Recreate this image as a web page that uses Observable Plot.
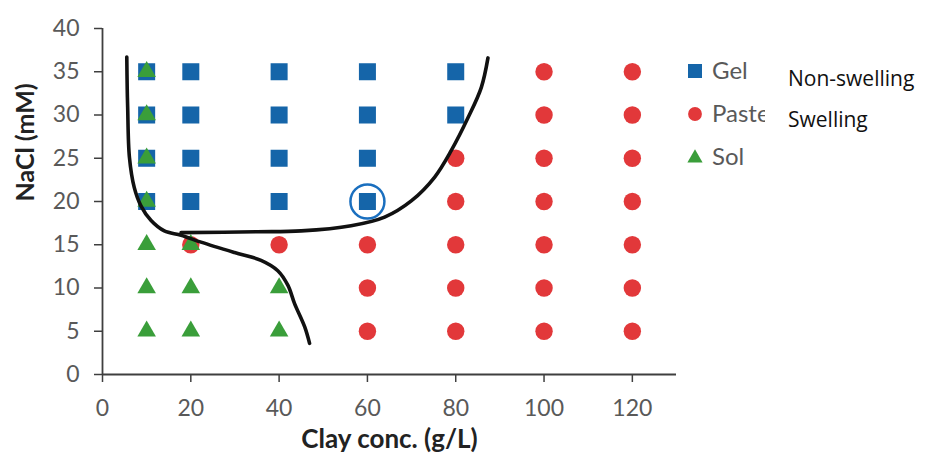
<!DOCTYPE html>
<html>
<head>
<meta charset="utf-8">
<script src="https://cdn.jsdelivr.net/npm/d3@7"></script>
<script src="https://cdn.jsdelivr.net/npm/@observablehq/plot@0.6"></script>
<style>
  html, body { margin: 0; padding: 0; background: #fff; }
  #chart { position: relative; width: 926px; height: 464px; overflow: hidden; }
  #chart svg { display: block; }
  #overlay { position: absolute; left: 0; top: 0; pointer-events: none; }
</style>
</head>
<body>
<div id="chart"></div>
<script>
// Phase diagram: clay concentration (g/L) vs NaCl (mM)
const xTicks = [0, 20, 40, 60, 80, 100, 120];
const yTicks = [0, 5, 10, 15, 20, 25, 30, 35, 40];

// Observed states, as [clay conc., NaCl] pairs
const gel = [
  [10, 20], [10, 25], [10, 30], [10, 35],
  [20, 20], [20, 25], [20, 30], [20, 35],
  [40, 20], [40, 25], [40, 30], [40, 35],
  [60, 20], [60, 25], [60, 30], [60, 35],
  [80, 30], [80, 35]
];
const paste = [
  [20, 15], [40, 15],
  [60, 5], [60, 10], [60, 15],
  [80, 5], [80, 10], [80, 15], [80, 20], [80, 25],
  [100, 5], [100, 10], [100, 15], [100, 20], [100, 25], [100, 30], [100, 35],
  [120, 5], [120, 10], [120, 15], [120, 20], [120, 25], [120, 30], [120, 35]
];
const sol = [
  [10, 5], [10, 10], [10, 15], [10, 20], [10, 25], [10, 30], [10, 35],
  [20, 5], [20, 10], [20, 15],
  [40, 5], [40, 10]
];
const highlighted = [[60, 20]];

// Hand-drawn phase boundaries
const solBoundary = [
  [5.5, 36.7], [5.6, 33], [5.7, 30.9], [6.1, 25.1], [7.2, 21.6], [8.7, 19.5],
  [11, 17.8], [14, 16.6], [17.8, 16.1], [22.3, 15.3], [29.9, 14.1], [35.9, 13.2],
  [39.7, 12.0], [42, 10.3], [43.5, 8.2], [45.8, 5.5], [46.9, 3.6]
];
const gelBoundary = [
  [17.8, 16.4], [35, 16.5], [45, 16.6], [56.3, 17.2], [63.9, 18.2], [70, 20.1],
  [75.2, 22.8], [79, 25.9], [82.8, 29.7], [85.8, 33.2], [87.3, 36.6]
];

const states = ["Gel", "Paste", "Sol"];
const colors = { Gel: "#1565a9", Paste: "#e2383a", Sol: "#3a9e3a" };
const notes = ["Non-swelling", "Swelling"];

const axisColor = "#3f3f3f";
const tickTextColor = "#595959";
const titleColor = "#222";

const plot = Plot.plot({
  width: 926,
  height: 464,
  marginLeft: 102,
  marginRight: 250,
  marginTop: 28,
  marginBottom: 90,
  style: { fontFamily: "Lato, sans-serif", background: "white", overflow: "visible" },
  x: { domain: [0, 130] },
  y: { domain: [0, 40] },
  marks: [
    Plot.axisX({ ticks: xTicks, tickSize: 8, tickPadding: 17, fontSize: 23,
      stroke: axisColor, strokeWidth: 1.5, fill: tickTextColor, label: null }),
    Plot.axisY({ ticks: yTicks, tickSize: 8, tickPadding: 15, fontSize: 23,
      stroke: axisColor, strokeWidth: 1.5, fill: tickTextColor, label: null }),
    Plot.ruleY([0], { stroke: axisColor, strokeWidth: 1.8 }),
    Plot.ruleX([0], { stroke: axisColor, strokeWidth: 1.8 }),
    Plot.dot(gel, { x: d => d[0], y: d => d[1], symbol: "square", r: 9.6, fill: colors.Gel }),
    Plot.dot(paste, { x: d => d[0], y: d => d[1], symbol: "circle", r: 8.7, fill: colors.Paste }),
    Plot.dot(sol, { x: d => d[0], y: d => d[1], symbol: "triangle", r: 6.9, fill: colors.Sol }),
    Plot.line(solBoundary, { x: d => d[0], y: d => d[1], curve: "catmull-rom",
      stroke: "#111", strokeWidth: 3.6 }),
    Plot.line(gelBoundary, { x: d => d[0], y: d => d[1], curve: "catmull-rom",
      stroke: "#111", strokeWidth: 3.6 }),
    Plot.dot(highlighted, { x: d => d[0], y: d => d[1], r: 17, fill: "none",
      stroke: "#1a6fbf", strokeWidth: 2.5 }),
    Plot.text(["NaCl (mM)"], { text: d => d, frameAnchor: "left", dx: -77, rotate: -90,
      fontSize: 25, fontWeight: "bold", fill: titleColor }),
    Plot.text(["Clay conc. (g/L)"], { text: d => d, frameAnchor: "bottom", dy: 73,
      fontSize: 26, fontWeight: "bold", fill: titleColor })
  ]
});

const chart = document.getElementById("chart");
chart.appendChild(plot);

// Legend and annotations drawn on top of the plot
const overlay = d3.select(chart).append("svg")
  .attr("id", "overlay")
  .attr("width", 926)
  .attr("height", 464);

overlay.append("clipPath").attr("id", "legend-clip")
  .append("rect").attr("x", 680).attr("y", 45).attr("width", 85).attr("height", 135);

const legend = overlay.append("g").attr("clip-path", "url(#legend-clip)");
const symbolFor = {
  Gel: d3.symbol(d3.symbolSquare, 196),
  Paste: d3.symbol(d3.symbolCircle, 150),
  Sol: d3.symbol(d3.symbolTriangle, 100)
};
states.forEach((s, i) => {
  const cy = 71 + i * 43;
  legend.append("path")
    .attr("transform", `translate(695,${cy + (s === "Sol" ? 1 : 0)})`)
    .attr("d", symbolFor[s]())
    .attr("fill", colors[s]);
  legend.append("text")
    .attr("x", 712)
    .attr("y", cy)
    .attr("dy", "0.35em")
    .attr("font-family", "Lato, sans-serif")
    .attr("font-size", 24)
    .attr("fill", tickTextColor)
    .text(s);
});

notes.forEach((t, i) => {
  overlay.append("text")
    .attr("x", 788)
    .attr("y", 86 + i * 41)
    .attr("font-family", "'Open Sans', sans-serif")
    .attr("font-size", 21)
    .attr("fill", "#111")
    .text(t);
});
</script>
</body>
</html>
